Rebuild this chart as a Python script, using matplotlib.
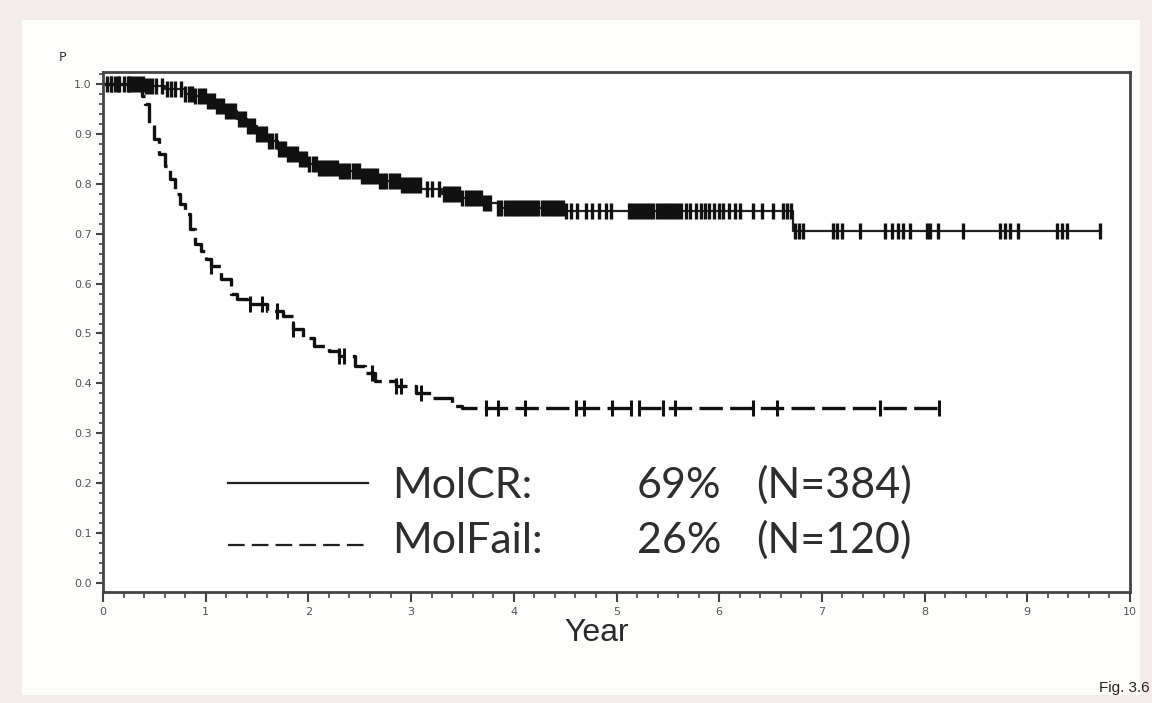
import numpy as np
import matplotlib
matplotlib.use("Agg")
import matplotlib.pyplot as plt
from matplotlib.patches import Rectangle
from matplotlib.ticker import MultipleLocator

# MolCR survival steps (year, P)
cr_t = [0.0, 0.4, 0.6, 0.8, 0.9, 1.0, 1.1, 1.2, 1.3, 1.4, 1.5, 1.6, 1.7, 1.8,
        1.9, 2.0, 2.1, 2.3, 2.5, 2.7, 2.9, 3.1, 3.3, 3.5, 3.7, 3.85, 4.5, 6.72]
cr_p = [1.0, 0.995, 0.99, 0.98, 0.975, 0.965, 0.955, 0.945, 0.93, 0.915, 0.90,
        0.885, 0.87, 0.86, 0.85, 0.84, 0.832, 0.825, 0.815, 0.805, 0.798, 0.79,
        0.78, 0.772, 0.762, 0.752, 0.745, 0.705]
cr_end = 9.71

# MolFail survival steps
mf_t = [0.0, 0.35, 0.38, 0.41, 0.45, 0.5, 0.55, 0.6, 0.65, 0.7, 0.75, 0.8, 0.85,
        0.9, 0.95, 1.0, 1.05, 1.15, 1.25, 1.3, 1.4, 1.6, 1.75, 1.85, 1.95, 2.05,
        2.2, 2.3, 2.45, 2.55, 2.65, 2.85, 3.05, 3.2, 3.4, 3.5]
mf_p = [1.0, 0.99, 0.975, 0.96, 0.92, 0.89, 0.86, 0.835, 0.81, 0.78, 0.76, 0.74,
        0.71, 0.68, 0.665, 0.65, 0.635, 0.61, 0.58, 0.57, 0.56, 0.545, 0.535,
        0.51, 0.49, 0.475, 0.465, 0.455, 0.435, 0.42, 0.405, 0.395, 0.38, 0.37,
        0.355, 0.35]
mf_end = 8.15

# censored times
cr_cens = [0.04, 0.08, 0.12, 0.16, 0.2, 0.24, 0.27, 0.3, 0.33, 0.36, 0.39,
           0.42, 0.45, 0.48, 0.52, 0.57, 0.62, 0.66, 0.7, 0.76, 0.8, 0.84,
           0.87, 0.9, 0.93, 0.96, 0.99, 1.02, 1.05, 1.08, 1.11, 1.14, 1.17,
           1.2, 1.23, 1.26, 1.29, 1.32, 1.35, 1.38, 1.41, 1.44, 1.47, 1.5,
           1.53, 1.56, 1.59, 1.62, 1.65, 1.68, 1.71, 1.74, 1.77, 1.8, 1.83,
           1.86, 1.89, 1.92, 1.95, 1.98, 2.01, 2.04, 2.07, 2.1, 2.13, 2.16,
           2.19, 2.22, 2.25, 2.28, 2.31, 2.34, 2.37, 2.4, 2.43, 2.46, 2.49,
           2.52, 2.55, 2.58, 2.61, 2.64, 2.67, 2.7, 2.73, 2.76, 2.79, 2.82,
           2.85, 2.88, 2.91, 2.94, 2.97, 3.0, 3.03, 3.06, 3.09, 3.15, 3.2,
           3.27, 3.32, 3.35, 3.38, 3.41, 3.44, 3.47, 3.5, 3.53, 3.56, 3.59,
           3.62, 3.65, 3.68, 3.71, 3.74, 3.77, 3.85, 3.88, 3.91, 3.94, 3.97,
           4.0, 4.03, 4.06, 4.09, 4.12, 4.15, 4.18, 4.21, 4.24, 4.27, 4.3,
           4.33, 4.36, 4.39, 4.42, 4.45, 4.48, 4.51, 4.56, 4.62, 4.7, 4.76,
           4.83, 4.9, 4.95, 5.12, 5.15, 5.18, 5.21, 5.24, 5.27, 5.3, 5.33,
           5.36, 5.39, 5.42, 5.45, 5.48, 5.51, 5.54, 5.57, 5.6, 5.63, 5.68,
           5.72, 5.77, 5.82, 5.86, 5.9, 5.95, 6.0, 6.04, 6.1, 6.15, 6.2, 6.33,
           6.42, 6.52, 6.62, 6.66, 6.7, 6.74, 6.78, 6.82, 7.11, 7.15, 7.2,
           7.37, 7.61, 7.68, 7.74, 7.79, 7.86, 8.02, 8.05, 8.13, 8.37, 8.73,
           8.78, 8.83, 8.91, 9.29, 9.34, 9.39, 9.71]
mf_cens = [0.08, 0.15, 0.25, 1.05, 1.43, 1.55, 1.69, 1.85, 2.3, 2.35, 2.62,
           2.85, 2.9, 3.1, 3.73, 3.85, 4.11, 4.61, 4.68, 4.96, 5.14, 5.22,
           5.45, 5.57, 6.33, 6.56, 7.57, 8.14]

legend_rows = [("MolCR:", "69%", "(N=384)"), ("MolFail:", "26%", "(N=120)")]
xticks = list(range(0, 11))
yticks = [0.0, 0.1, 0.2, 0.3, 0.4, 0.5, 0.6, 0.7, 0.8, 0.9, 1.0]


def surv_at(times, t_steps, p_steps):
    idx = np.searchsorted(t_steps, times, side="right") - 1
    return np.array(p_steps)[idx]


fig = plt.figure(figsize=(11.52, 7.03), dpi=100)
fig.patch.set_facecolor("#f4eceb")
fig.patches.append(Rectangle((22 / 1152, 8 / 703), 1118 / 1152, 675 / 703,
                             transform=fig.transFigure, facecolor="#fdfdfc",
                             edgecolor="none", zorder=-5))

ax = fig.add_axes([103 / 1152, 111 / 703, 1027 / 1152, 520 / 703], zorder=2)
ax.set_facecolor("white")

# curves
ax.step(cr_t + [cr_end], cr_p + [cr_p[-1]], where="post", color="#222222", lw=1.6)
ax.step(mf_t + [mf_end], mf_p + [mf_p[-1]], where="post", color="#111111",
        lw=2.4, dashes=(7, 2.2))

ax.plot(cr_cens, surv_at(cr_cens, cr_t, cr_p), ls="none", marker="|",
        ms=11, mew=2.4, color="#111111")
ax.plot(mf_cens, surv_at(mf_cens, mf_t, mf_p), ls="none", marker="|",
        ms=11, mew=2.2, color="#111111")

# legend drawn in the plot
leg_y = [0.2, 0.076]
text_y = [0.17, 0.06]
ax.plot([1.22, 2.58], [leg_y[0]] * 2, color="#222222", lw=1.6)
ax.plot([1.22, 2.58], [leg_y[1]] * 2, color="#222222", lw=1.6, dashes=(7.5, 3.2))
for (name, pct, n), yy in zip(legend_rows, text_y):
    for xx, s in zip([2.82, 5.2, 6.36], [name, pct, n]):
        ax.text(xx, yy, s, fontsize=31, family="Lato", color="#2e2e2e",
                va="baseline", ha="left")

ax.set_xlim(0, 10)
ax.set_ylim(-0.018, 1.024)
ax.set_xticks(xticks)
ax.set_yticks(yticks)
ax.set_yticklabels([f"{v:.1f}" for v in yticks])
ax.xaxis.set_minor_locator(MultipleLocator(0.2))
ax.yaxis.set_minor_locator(MultipleLocator(0.02))
ax.tick_params(which="major", direction="out", length=7, width=1.5,
               colors="#444444", labelsize=8, labelcolor="#555555", pad=4)
ax.tick_params(which="minor", direction="out", length=4, width=1.3, colors="#555555")
ax.tick_params(axis="y", which="major", length=5, pad=3)
ax.tick_params(axis="y", which="minor", length=3)
for sp in ax.spines.values():
    sp.set_color("#444444")
    sp.set_linewidth(2)

fig.text(597 / 1152, 1 - 633 / 703, "Year", fontsize=23, family="Liberation Sans",
         color="#2a2a2a", ha="center", va="center")
ax.text(-0.039, 1.027, "P", transform=ax.transAxes, fontsize=9,
        color="#333333", ha="center", va="center")
fig.text(0.998, 0.012, "Fig. 3.6", fontsize=11, family="Liberation Sans",
         color="#2a2020", ha="right", va="bottom")

fig.savefig("out.png", dpi=100, facecolor=fig.get_facecolor())
